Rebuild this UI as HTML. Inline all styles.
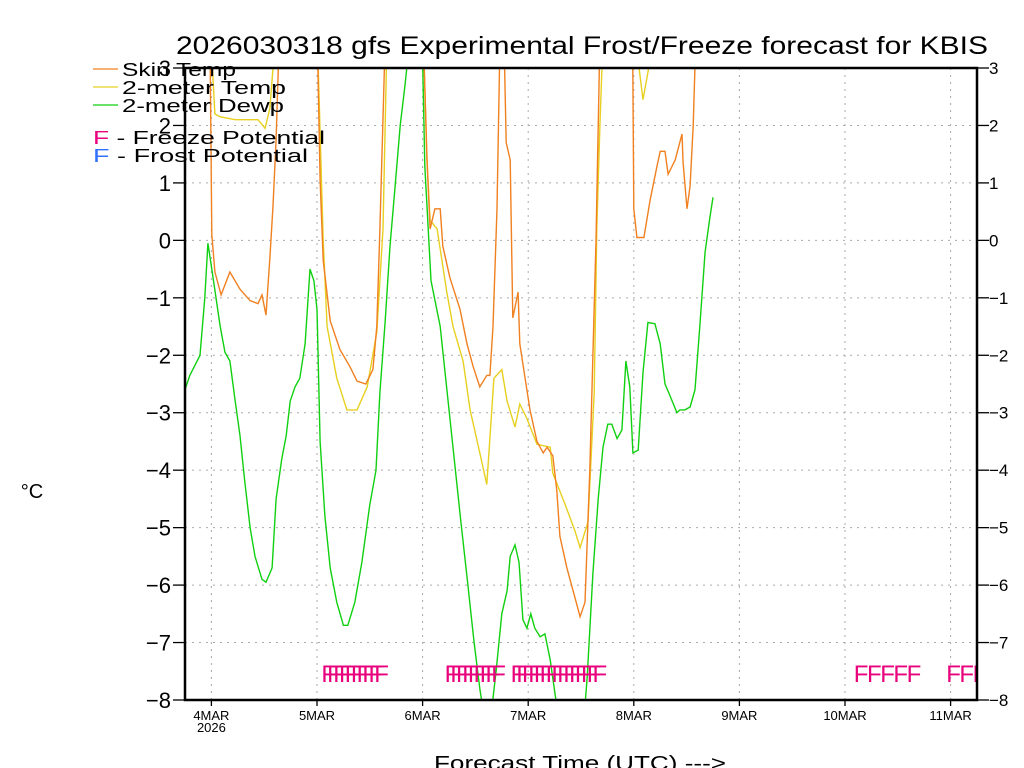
<!DOCTYPE html>
<html><head><meta charset="utf-8"><style>
html,body{margin:0;padding:0;background:#fff;}
svg{display:block;font-family:"Liberation Sans",sans-serif;}
</style></head><body>
<svg id="chart" width="1024" height="768" xmlns="http://www.w3.org/2000/svg">
<defs><clipPath id="plotclip"><rect x="185" y="68" width="792" height="632"/></clipPath></defs>
<text x="582" y="54" font-size="25" text-anchor="middle" textLength="812" lengthAdjust="spacingAndGlyphs">2026030318 gfs Experimental Frost/Freeze forecast for KBIS</text>
<g id="grid"></g>
<g id="series" clip-path="url(#plotclip)"></g>
<g id="axes"></g>
<text x="32" y="498" font-size="20" text-anchor="middle">°C</text>
<text x="580" y="770" font-size="20" text-anchor="middle" textLength="292" lengthAdjust="spacingAndGlyphs">Forecast Time (UTC) ---&gt;</text>
<g font-size="18">
<line x1="93" y1="69" x2="118" y2="69" stroke="#f08020" stroke-width="1.3"/>
<text x="122" y="76" textLength="114" lengthAdjust="spacingAndGlyphs">Skin Temp</text>
<line x1="93" y1="87" x2="118" y2="87" stroke="#e8d020" stroke-width="1.3"/>
<text x="122" y="94" textLength="164" lengthAdjust="spacingAndGlyphs">2-meter Temp</text>
<line x1="93" y1="105" x2="118" y2="105" stroke="#10d010" stroke-width="1.3"/>
<text x="122" y="112" textLength="162" lengthAdjust="spacingAndGlyphs">2-meter Dewp</text>
<text x="93" y="144" textLength="232" lengthAdjust="spacingAndGlyphs"><tspan fill="#e8007c">F</tspan> - Freeze Potential</text>
<text x="93" y="162" textLength="215" lengthAdjust="spacingAndGlyphs"><tspan fill="#3070ff">F</tspan> - Frost Potential</text>
</g>
</svg>
<script>
const skinHours = [0,5.5,6.1,6.8,8.2,10.2,12.5,14.8,16.6,17.5,18.4,19.3,20,20.7,21.4,23.9,29.5,30.2,30.7,31.4,33,35.2,37.5,39.1,41.1,42.7,43.6,44.3,45.5,48.9,53.4,54.3,55,55.7,56.8,58,58.6,60.2,62.5,64.1,65.5,67,68.6,69.3,70,70.9,71.6,72.5,73,73.9,74.5,75.7,76.1,77.3,78.4,80,81.4,82.3,83.6,84.5,85.2,86.8,88.2,89.8,90.9,92,93.4,94.3,98.9,101.6,102,102.7,104.3,105.7,107.3,108,109.1,109.8,111.4,112.95,113.2,114.1,114.8,115.5,116.1,117];
const skinTemp = [5,5,0.1,-0.55,-0.95,-0.55,-0.85,-1.05,-1.1,-0.95,-1.3,-0.3,0.6,1.75,3.5,5,5,3,1.05,-0.35,-1.4,-1.9,-2.2,-2.45,-2.5,-2.25,-1.5,0.2,3.5,5,5,3.2,1.4,0.2,0.55,0.55,-0.1,-0.65,-1.2,-1.8,-2.2,-2.55,-2.35,-2.35,-1.5,0.55,3.5,3.5,1.7,1.4,-1.35,-0.9,-1.8,-2.4,-2.95,-3.5,-3.7,-3.6,-3.75,-4.35,-5.15,-5.7,-6.1,-6.55,-6.3,-4,0,3.5,5,5,0.55,0.05,0.05,0.7,1.3,1.55,1.55,1.15,1.4,1.85,1.35,0.55,0.95,2.0,3.5,5];
const tempHours = [0,5.5,6.1,6.8,8,11.4,16.6,18.2,19.3,20.5,23.9,29.5,30.2,31.4,32.3,34.5,36.8,39.1,41.4,43.6,45,45.9,48.9,53.4,54.3,55,55.7,57.3,59.5,60.9,63.2,64.8,67,68.6,70.2,72,73.2,75,76.1,77.7,80,83,83.6,86.4,88.6,89.8,91.6,93,93.6,94.3,95,98.9,101.8,102.7,104.1,106.1,108,117];
const temp2m = [5,5,3.2,2.2,2.15,2.1,2.1,1.95,2.3,3.5,5,5,3.2,0,-1.5,-2.4,-2.95,-2.95,-2.55,-1.6,0.2,3.5,5,5,3.2,1.4,0.35,0.2,-0.9,-1.5,-2.1,-2.95,-3.7,-4.25,-2.4,-2.25,-2.8,-3.25,-2.85,-3.1,-3.55,-3.6,-4.05,-4.6,-5.05,-5.35,-4.9,-2.66,0.2,2,3.5,5,5,3.3,2.45,3.3,5,5];
const dewHours = [0,1.1,3.4,4.5,5.2,6.1,8,9.1,10.2,11.4,12.5,13.6,14.8,15.9,17.5,18.4,19.8,20.7,22,23,23.9,25,26.1,27.3,28.4,29.3,30,30.7,31.8,33,34.5,36,37,38.6,40.2,42,43.4,44.3,45.5,46.6,47.7,48.9,50,51.1,53.9,54.5,55.9,58,59.8,62.7,64.3,65.7,67,68,69.5,70.7,72,73.2,73.9,75,75.9,76.8,77.7,78.6,79.5,80.7,81.8,83,84.3,85.2,90.5,91.4,92.7,93.9,95,96.1,97,98.2,99.3,100.2,101.1,101.8,103,104.1,105.2,106.8,108,109.1,110.2,111.8,112.5,113.6,114.8,115.9,117,118.2,119.3,120];
const dewp2m = [-2.6,-2.35,-2.0,-1.0,-0.05,-0.5,-1.5,-1.95,-2.1,-2.8,-3.4,-4.2,-5.0,-5.5,-5.9,-5.95,-5.7,-4.5,-3.8,-3.4,-2.8,-2.55,-2.4,-1.8,-0.5,-0.7,-1.2,-3.5,-4.8,-5.7,-6.3,-6.7,-6.7,-6.3,-5.6,-4.6,-4.0,-2.65,-1.4,-0.1,0.9,2.0,2.7,3.5,3.5,1.3,-0.7,-1.5,-2.8,-4.9,-6,-7.0,-7.8,-8.3,-8.3,-7.5,-6.5,-6.1,-5.5,-5.3,-5.6,-6.6,-6.75,-6.5,-6.75,-6.9,-6.85,-7.3,-8,-8.5,-8.5,-7.6,-5.8,-4.5,-3.6,-3.2,-3.2,-3.45,-3.3,-2.1,-2.55,-3.7,-3.65,-2.3,-1.43,-1.45,-1.8,-2.5,-2.7,-3.0,-2.95,-2.95,-2.9,-2.6,-1.5,-0.2,0.4,0.75];
const freezeHours = [31,32.3,33.7,35,36.3,37.7,39,40.3,41.7,43,59,60.3,61.6,63,64.3,65.6,67,68.3,69.6,74,75.3,76.6,78,79.3,80.6,82,83.3,84.6,86,87.3,88.6,90,91.3,92.6,152,155,158,161,164,173,176,179];
const yTicks = [3,2,1,0,-1,-2,-3,-4,-5,-6,-7,-8];
const dayLabels = ["4MAR","5MAR","6MAR","7MAR","8MAR","9MAR","10MAR","11MAR"];
const dayHours = [6,30,54,78,102,126,150,174];

const NS="http://www.w3.org/2000/svg";
const X0=185,X1=977,Y0=68,Y1=700;
const xs=h=>X0+h*(X1-X0)/180;
const ys=v=>Y0+(3-v)*(Y1-Y0)/11;
function mk(tag,attrs,parent){const e=document.createElementNS(NS,tag);for(const k in attrs)e.setAttribute(k,attrs[k]);parent.appendChild(e);return e;}
const grid=document.getElementById('grid'),axes=document.getElementById('axes'),ser=document.getElementById('series');
yTicks.forEach(v=>{
  if(v>-8&&v<3){const l=mk('line',{x1:X0,x2:X1,y1:ys(v),y2:ys(v),stroke:'#aaa','stroke-dasharray':'2,5'},grid);
  
  }
  const t1=mk('line',{x1:X0-12,x2:X0,y1:ys(v),y2:ys(v),stroke:'#000','stroke-width':1.3},axes);
  
  
  const t2=mk('line',{x1:X1,x2:X1+12,y1:ys(v),y2:ys(v),stroke:'#000','stroke-width':1.3},axes);
  
  
  const lt=mk('text',{x:171,y:ys(v)+8,'font-size':22,'text-anchor':'end'},axes);lt.textContent=(v<0?'−':'')+Math.abs(v);
  
  
  const rt=mk('text',{x:989,y:ys(v)+6,'font-size':17},axes);rt.textContent=(v<0?'−':'')+Math.abs(v);
  
  
});
dayHours.forEach((h,i)=>{
  const g=mk('line',{x1:xs(h),x2:xs(h),y1:Y0,y2:Y1,stroke:'#aaa','stroke-dasharray':'2,5'},grid);
  
  
  const t=mk('line',{x1:xs(h),x2:xs(h),y1:Y1,y2:Y1+6,stroke:'#000','stroke-width':1.3},axes);
  
  
  const l=mk('text',{x:xs(h),y:Y1+20,'font-size':13,'text-anchor':'middle'},axes);l.textContent=dayLabels[i];
  
  
});
const yr=mk('text',{x:xs(6),y:Y1+32,'font-size':13,'text-anchor':'middle'},axes);yr.textContent='2026';


const fr=mk('rect',{x:X0,y:Y0,width:X1-X0,height:Y1-Y0,fill:'none',stroke:'#000','stroke-width':2.5},axes);


function line(hrs,vals,color,name){
  const d=hrs.map((h,i)=>(i?'L':'M')+xs(h).toFixed(1)+','+ys(vals[i]).toFixed(1)).join(' ');
  const p=mk('path',{d:d,fill:'none',stroke:color,'stroke-width':1.4},ser);
  
  
}
line(dewHours,dewp2m,'#10d010','dewpoint-line');
line(tempHours,temp2m,'#e8d020','2m-temp-line');
line(skinHours,skinTemp,'#f08020','skin-temp-line');
freezeHours.forEach(h=>{
  const t=mk('text',{x:xs(h),y:682,'font-size':24,fill:'#e8007c'},ser);t.textContent='F';
  
  
});
</script>
</body></html>
